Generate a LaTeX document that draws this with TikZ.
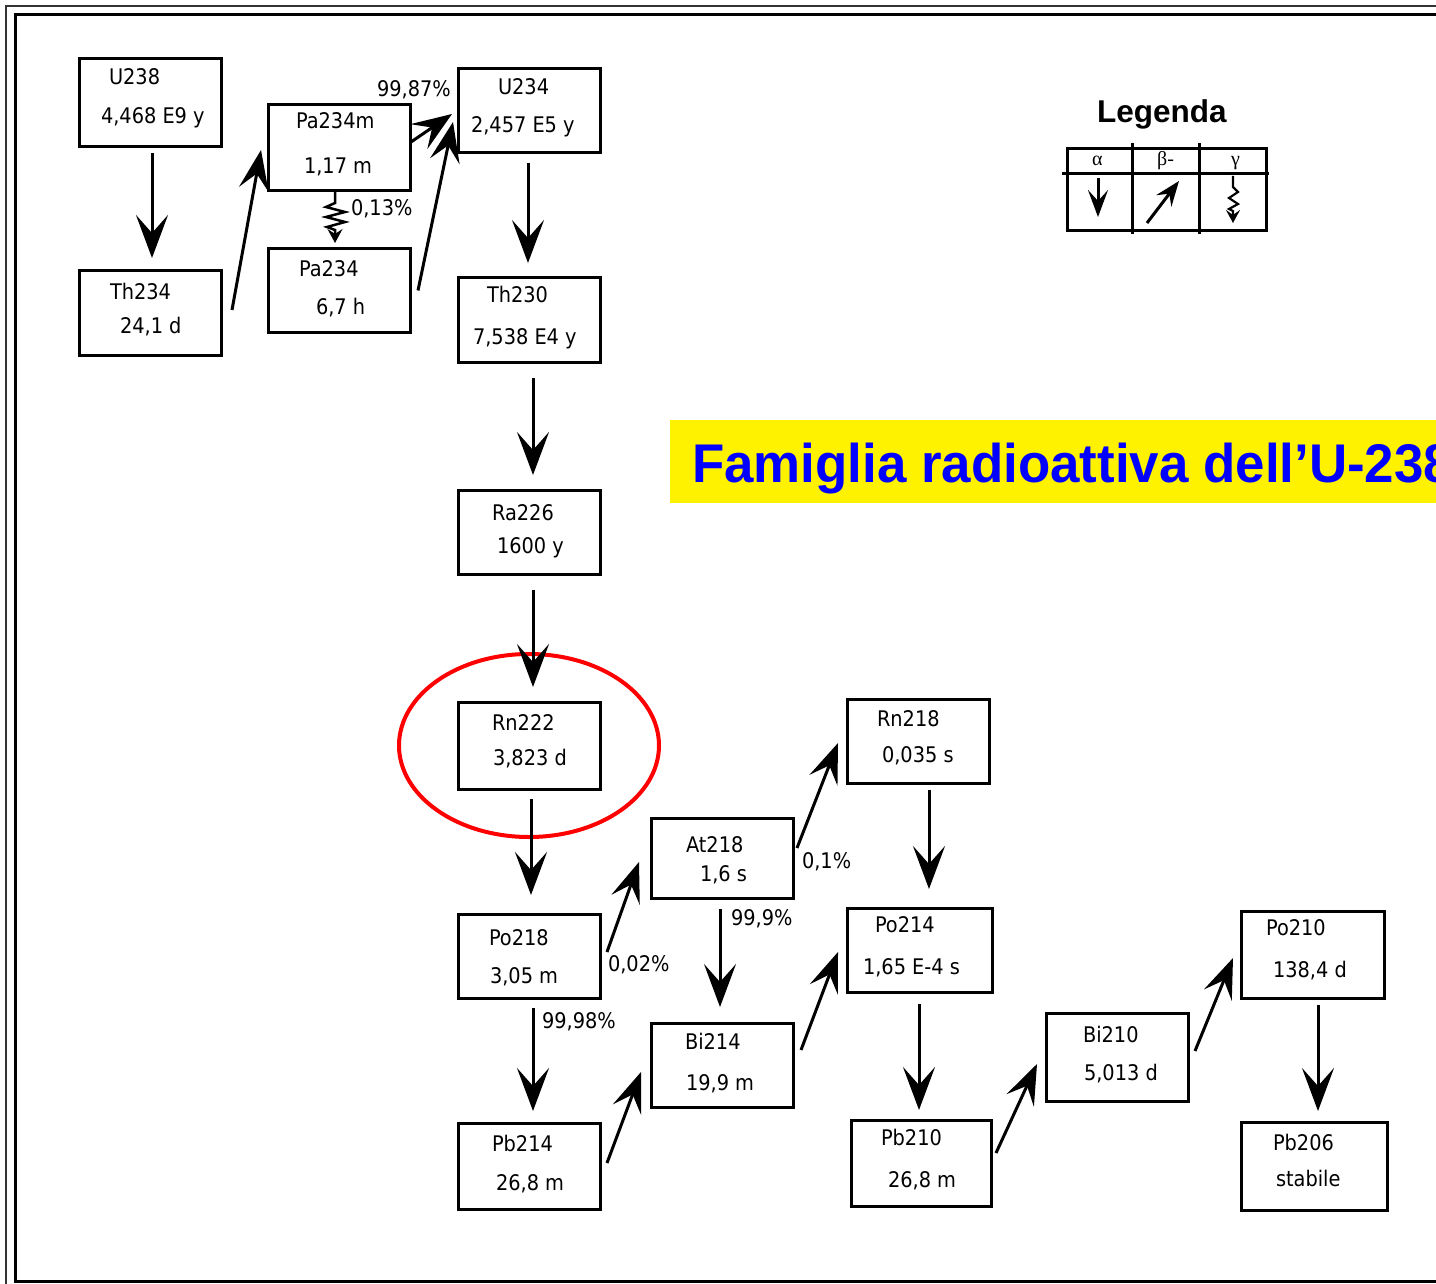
\documentclass[tikz,border=0pt]{standalone}
\usepackage{fontspec}
\usetikzlibrary{arrows.meta,shapes.geometric}
\newfontfamily\boxfont[FakeStretch=0.9]{DejaVu Sans}
\newfontfamily\titlefont[FakeStretch=0.97]{Liberation Sans}
\newfontfamily\legfont{Liberation Sans}
\newfontfamily\greekfont{Liberation Serif}
\tikzset{
  box/.style={draw, line width=3pt, rectangle, inner sep=0pt, outer sep=0pt, anchor=north west},
  lbl/.style={inner sep=0pt, outer sep=0pt, anchor=base west, font=\boxfont\fontsize{21.5}{24}\selectfont},
  aarr/.style={line width=3pt, -{Stealth[length=43pt,width=32pt,inset=18pt]}},
  barr/.style={line width=3pt, -{Stealth[length=40pt,width=30pt,inset=16pt]}},
  garr/.style={line width=2.5pt, line join=miter, -{Stealth[length=14pt,width=15pt,inset=5pt]}},
  legline/.style={line width=3pt},
}
\begin{document}
\begin{tikzpicture}[x=1pt,y=-1pt]
\path[use as bounding box] (0,0) rectangle (1436,1284);
\clip (0,0) rectangle (1436,1284);
% frame
\draw[line width=1.6pt, black!80] (6,6) rectangle (1470,1310);
\draw[line width=3pt] (15,15) rectangle (1460,1281);
% title banner
\node[fill=yellow, anchor=north west, minimum width=790pt, minimum height=83pt, inner sep=0pt, outer sep=0pt] (banner) at (670,420) {};
\node[anchor=base west, inner sep=0pt, text=blue, font=\titlefont\bfseries\fontsize{54.5}{60}\selectfont] (title) at (692,482) {Famiglia radioattiva dell’U-238};
% boxes
\node[box, minimum width=142pt, minimum height=88pt] (u238) at (79,59) {};
\node[box, minimum width=142pt, minimum height=84pt] (th234) at (79,271) {};
\node[box, minimum width=142pt, minimum height=86pt] (pa234m) at (268,105) {};
\node[box, minimum width=142pt, minimum height=83pt] (pa234) at (268,249) {};
\node[box, minimum width=142pt, minimum height=84pt] (u234) at (458,69) {};
\node[box, minimum width=142pt, minimum height=84pt] (th230) at (458,278) {};
\node[box, minimum width=142pt, minimum height=84pt] (ra226) at (458,490) {};
\node[box, minimum width=142pt, minimum height=87pt] (rn222) at (458,702) {};
\node[box, minimum width=142pt, minimum height=84pt] (po218) at (458,914) {};
\node[box, minimum width=142pt, minimum height=86pt] (pb214) at (458,1123) {};
\node[box, minimum width=142pt, minimum height=80pt] (at218) at (651,818) {};
\node[box, minimum width=142pt, minimum height=84pt] (bi214) at (651,1023) {};
\node[box, minimum width=142pt, minimum height=84pt] (rn218) at (847,699) {};
\node[box, minimum width=145pt, minimum height=84pt] (po214) at (847,908) {};
\node[box, minimum width=140pt, minimum height=86pt] (pb210) at (851,1120) {};
\node[box, minimum width=142pt, minimum height=88pt] (bi210) at (1046,1013) {};
\node[box, minimum width=143pt, minimum height=87pt] (po210) at (1241,911) {};
\node[box, minimum width=146pt, minimum height=88pt] (pb206) at (1241,1122) {};
% box texts
\node[lbl] (u238a) at (109,85) {U238};
\node[lbl] (u238b) at (101,124) {4,468 E9 y};
\node[lbl] (th234a) at (110,299) {Th234};
\node[lbl] (th234b) at (120,334) {24,1 d};
\node[lbl] (pa234ma) at (296,129) {Pa234m};
\node[lbl] (pa234mb) at (304,174) {1,17 m};
\node[lbl] (pa234a) at (299,277) {Pa234};
\node[lbl] (pa234b) at (316,315) {6,7 h};
\node[lbl] (u234a) at (498,95) {U234};
\node[lbl] (u234b) at (471,133) {2,457 E5 y};
\node[lbl] (th230a) at (487,303) {Th230};
\node[lbl] (th230b) at (473,344) {7,538 E4 y};
\node[lbl] (ra226a) at (492,520) {Ra226};
\node[lbl] (ra226b) at (497,553) {1600 y};
\node[lbl] (rn222a) at (492,730) {Rn222};
\node[lbl] (rn222b) at (493,765) {3,823 d};
\node[lbl] (po218a) at (489,945) {Po218};
\node[lbl] (po218b) at (490,983) {3,05 m};
\node[lbl] (pb214a) at (492,1151) {Pb214};
\node[lbl] (pb214b) at (496,1190) {26,8 m};
\node[lbl] (at218a) at (686,852) {At218};
\node[lbl] (at218b) at (700,881) {1,6 s};
\node[lbl] (bi214a) at (685,1049) {Bi214};
\node[lbl] (bi214b) at (686,1090) {19,9 m};
\node[lbl] (rn218a) at (877,726) {Rn218};
\node[lbl] (rn218b) at (882,762) {0,035 s};
\node[lbl] (po214a) at (875,932) {Po214};
\node[lbl] (po214b) at (863,974) {1,65 E-4 s};
\node[lbl] (pb210a) at (881,1145) {Pb210};
\node[lbl] (pb210b) at (888,1187) {26,8 m};
\node[lbl] (bi210a) at (1083,1042) {Bi210};
\node[lbl] (bi210b) at (1084,1080) {5,013 d};
\node[lbl] (po210a) at (1266,935) {Po210};
\node[lbl] (po210b) at (1273,977) {138,4 d};
\node[lbl] (pb206a) at (1273,1150) {Pb206};
\node[lbl] (pb206b) at (1276,1186) {stabile};
% percentage labels
\node[lbl] (p1) at (377,97) {99,87\%};
\node[lbl] (p2) at (351,216) {0,13\%};
\node[lbl] (p3) at (608,971) {0,02\%};
\node[lbl] (p4) at (542,1028) {99,98\%};
\node[lbl] (p5) at (731,925) {99,9\%};
\node[lbl] (p6) at (802,868) {0,1\%};
% red ellipse
\node[draw=red, ellipse, line width=4pt, minimum width=260pt, minimum height=183pt, inner sep=0pt] (ring) at (rn222.center) {};
% alpha decays
\draw[aarr] ([shift={(2,6)}]u238.south) -- ([shift={(2,-13)}]th234.north);
\draw[aarr] ([shift={(-1,10)}]u234.south) -- ([shift={(-1,-15)}]th230.north);
\draw[aarr] ([shift={(4,16)}]th230.south) -- ([shift={(4,-15)}]ra226.north);
\draw[aarr] ([shift={(4,16)}]ra226.south) -- ([shift={(4,-15)}]rn222.north);
\draw[aarr] ([shift={(2,10)}]rn222.south) -- ([shift={(2,-19)}]po218.north);
\draw[aarr] ([shift={(4,10)}]po218.south) -- ([shift={(4,-12)}]pb214.north);
\draw[aarr] ([shift={(-2,11)}]at218.south) -- ([shift={(-2,-16)}]bi214.north);
\draw[aarr] ([shift={(11,7)}]rn218.south) -- ([shift={(9.5,-19)}]po214.north);
\draw[aarr] ([shift={(-0.5,12)}]po214.south) -- ([shift={(-2,-10)}]pb210.north);
\draw[aarr] ([shift={(5.5,7)}]po210.south) -- ([shift={(4,-11)}]pb206.north);
% beta decays
\draw[barr] ([shift={(11,-3)}]th234.east) -- ([shift={(-7,2)}]pa234m.west);
\draw[barr] ([shift={(1,-6)}]pa234m.east) -- ([shift={(-6,3)}]u234.west);
\draw[barr] ([shift={(8,0)}]pa234.east) -- ([shift={(-5,11)}]u234.west);
\draw[barr] ([shift={(7,-4)}]po218.east) -- ([shift={(-12,4)}]at218.west);
\draw[barr] ([shift={(4,-10)}]at218.east) -- ([shift={(-9,2)}]rn218.west);
\draw[barr] ([shift={(7,-3)}]pb214.east) -- ([shift={(-10,7)}]bi214.west);
\draw[barr] ([shift={(8,-15)}]bi214.east) -- ([shift={(-9,2)}]po214.west);
\draw[barr] ([shift={(5,-10)}]pb210.east) -- ([shift={(-9,7)}]bi210.west);
\draw[barr] ([shift={(7,-6)}]bi210.east) -- ([shift={(-8,3.5)}]po210.west);
% gamma
\draw[garr] ([xshift=-4]pa234m.south) -- ++(0,12) -- ++(-9,4) -- ++(19,5) -- ++(-19,5) -- ++(19,5) -- ++(-18,5) -- ++(8,3) -- ([shift={(-4,-6)}]pa234.north);
% legend
\node[anchor=base west, inner sep=0pt, font=\legfont\bfseries\fontsize{31.5}{36}\selectfont] (legtitle) at (1097,123) {Legenda};
\draw[legline] (1067,149) rectangle (1266,231);
\draw[legline] (1062,174) -- (1269,174);
\draw[legline] (1132,143) -- (1132,234);
\draw[legline] (1199,143) -- (1199,234);
\node[anchor=base west, inner sep=0pt, font=\greekfont\fontsize{20}{22}\selectfont] (la) at (1092,166) {α};
\node[anchor=base west, inner sep=0pt, font=\greekfont\fontsize{20}{22}\selectfont] (lb) at (1157,166) {β-};
\node[anchor=base west, inner sep=0pt, font=\greekfont\fontsize{20}{22}\selectfont] (lg) at (1231,166) {γ};
\draw[line width=3pt, -{Stealth[length=27pt,width=20pt,inset=11pt]}] (1098,178) -- (1098,217);
\draw[line width=3pt, -{Stealth[length=25pt,width=19pt,inset=9pt]}] (1147,223) -- (1179,181);
\draw[line width=2.2pt, line join=miter, -{Stealth[length=13pt,width=14pt,inset=5pt]}] (1233,176) -- (1233,187) -- (1238,192) -- (1229,198) -- (1238,204) -- (1229,209) -- (1233,211) -- (1233,223);
\end{tikzpicture}
\end{document}
